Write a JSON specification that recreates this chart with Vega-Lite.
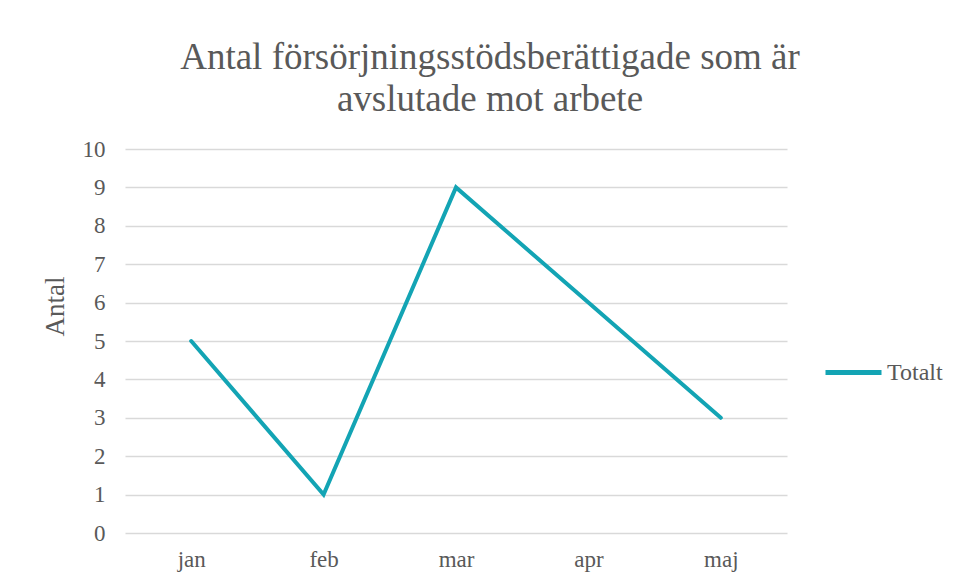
{
  "$schema": "https://vega.github.io/schema/vega-lite/v6.json",
  "width": 662,
  "height": 384,
  "autosize": "none",
  "padding": {"left": 125, "top": 149, "right": 171, "bottom": 50},
  "background": "white",
  "title": {
    "text": ["Antal försörjningsstödsberättigade som är", "avslutade mot arbete"],
    "font": "Liberation Serif",
    "fontSize": 37,
    "fontWeight": "normal",
    "color": "#595959",
    "anchor": "middle",
    "dx": 34,
    "offset": 19,
    "lineHeight": 42
  },
  "data": {
    "values": [
      {"month": "jan", "value": 5, "series": "Totalt"},
      {"month": "feb", "value": 1, "series": "Totalt"},
      {"month": "mar", "value": 9, "series": "Totalt"},
      {"month": "apr", "value": 6, "series": "Totalt"},
      {"month": "maj", "value": 3, "series": "Totalt"}
    ]
  },
  "mark": {"type": "line", "strokeWidth": 4, "strokeCap": "round", "strokeJoin": "miter"},
  "encoding": {
    "x": {
      "field": "month",
      "type": "ordinal",
      "sort": null,
      "scale": {"type": "point", "padding": 0.5},
      "axis": {
        "title": null,
        "labelAngle": 0,
        "domain": false,
        "ticks": false,
        "grid": false,
        "labelPadding": 15,
        "labelFont": "Liberation Serif",
        "labelFontSize": 23,
        "labelColor": "#595959"
      }
    },
    "y": {
      "field": "value",
      "type": "quantitative",
      "scale": {"domain": [0, 10], "nice": false},
      "axis": {
        "title": "Antal",
        "titleFont": "Liberation Serif",
        "titleFontSize": 27,
        "titleFontWeight": "normal",
        "titleColor": "#595959",
        "titleX": -62,
        "titleY": 157,
        "titleAlign": "center",
        "titleBaseline": "alphabetic",
        "titleAngle": -90,
        "values": [0, 1, 2, 3, 4, 5, 6, 7, 8, 9, 10],
        "domain": false,
        "ticks": false,
        "grid": true,
        "gridColor": "#d9d9d9",
        "gridWidth": 1.3,
        "labelPadding": 20,
        "labelFont": "Liberation Serif",
        "labelFontSize": 23,
        "labelColor": "#595959"
      }
    },
    "color": {
      "field": "series",
      "type": "nominal",
      "scale": {"range": ["#13a4b4"]},
      "legend": {
        "title": null,
        "orient": "none",
        "legendX": 698,
        "legendY": 193,
        "symbolType": "stroke",
        "symbolSize": 3136,
        "symbolStrokeWidth": 5,
        "labelFont": "Liberation Serif",
        "labelFontSize": 24,
        "labelColor": "#595959",
        "labelOffset": 3
      }
    }
  },
  "config": {"view": {"stroke": null}}
}
